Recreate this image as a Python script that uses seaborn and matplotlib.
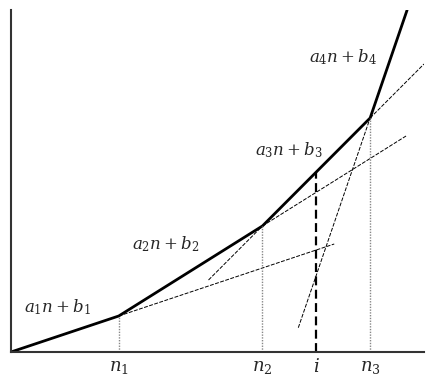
import numpy as np
import pandas as pd
import seaborn as sns
import matplotlib
matplotlib.use("Agg")
import matplotlib.pyplot as plt

# Breakpoints of the piecewise-linear convex function
x_pts = [0.0, 3.0, 7.0, 10.0, 11.03]
y_pts = [0.0, 1.0, 3.5, 6.5, 9.5]

# Extensions (dotted/dashed continuations) of each segment: (segment index, x from, x to)
ext_seg = [0, 1, 2, 2, 3]
ext_x0 = [3.0, 7.0, 5.5, 10.0, 8.0]
ext_x1 = [9.0, 11.0, 7.0, 11.5, 10.0]

# Tick marks on the n axis
tick_x = [3.0, 7.0, 8.5, 10.0]
tick_labels = ["$n_1$", "$n_2$", "$i$", "$n_3$"]

# Segment labels
seg_labels = ["$a_1n + b_1$", "$a_2n + b_2$", "$a_3n + b_3$", "$a_4n + b_4$"]
seg_label_x = [1.3, 4.3, 7.75, 9.25]
seg_label_y = [1.25, 3.0, 5.6, 8.2]

sns.set_theme(style="white")
plt.rcParams["mathtext.fontset"] = "dejavuserif"

fig = plt.figure(figsize=(4.35, 3.91), dpi=100)
ax = fig.add_axes([11 / 435, (391 - 352) / 391, (424 - 11) / 435, (352 - 10) / 391])

df = pd.DataFrame({"n": x_pts, "cost": y_pts})
sns.lineplot(data=df, x="n", y="cost", ax=ax, color="black", lw=2.0, sort=False)

def seg_val(k, x):
    x0, x1 = x_pts[k], x_pts[k + 1]
    y0, y1 = y_pts[k], y_pts[k + 1]
    return y0 + (y1 - y0) * (x - x0) / (x1 - x0)

for k, a, b in zip(ext_seg, ext_x0, ext_x1):
    xs = [a, b]
    ax.plot(xs, [seg_val(k, a), seg_val(k, b)], color="black", lw=0.7, ls=(0, (4, 1.5)))

# vertical guide lines
for tx in tick_x:
    if tx == 8.5:
        top = seg_val(2, tx)
        ax.plot([tx, tx], [0, top], color="black", lw=1.6, ls=(0, (4, 2)))
    else:
        k = x_pts.index(tx)
        ax.plot([tx, tx], [0, y_pts[k]], color="#888888", lw=1.0, ls=(0, (1, 1)))

for lab, lx, ly in zip(seg_labels, seg_label_x, seg_label_y):
    ax.text(lx, ly, lab, fontsize=12, ha="center", va="center")

ax.set_xticks(tick_x)
ax.set_xticklabels(tick_labels, fontsize=13)
ax.tick_params(axis="x", length=0, pad=4)
ax.set_yticks([])
ax.set_xlim(0, 11.5)
ax.set_ylim(0, 9.5)
ax.set_xlabel("")
ax.set_ylabel("")
for s in ["top", "right"]:
    ax.spines[s].set_visible(False)
for s in ["left", "bottom"]:
    ax.spines[s].set_color("#333333")
    ax.spines[s].set_linewidth(1.5)

fig.savefig("out.png", dpi=100)
